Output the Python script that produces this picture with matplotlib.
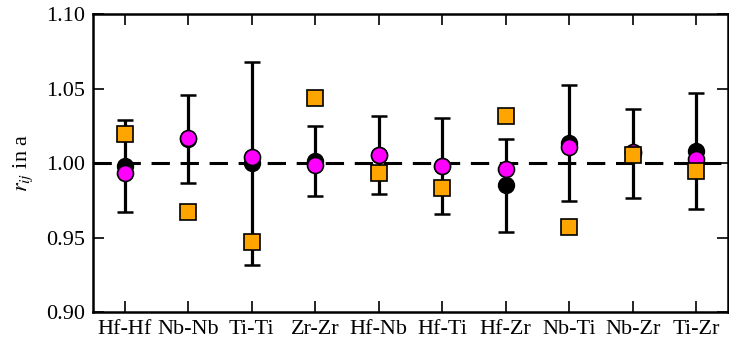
import numpy as np
import matplotlib
matplotlib.use("Agg")
import matplotlib.pyplot as plt

plt.rcParams['font.family'] = ['Liberation Serif', 'DejaVu Serif']
plt.rcParams['mathtext.fontset'] = 'stix'

pairs = ["Hf-Hf", "Nb-Nb", "Ti-Ti", "Zr-Zr", "Hf-Nb", "Hf-Ti", "Hf-Zr", "Nb-Ti", "Nb-Zr", "Ti-Zr"]
black_val = [0.998, 1.016, 0.9998, 1.0015, 1.0055, 0.998, 0.985, 1.0137, 1.0064, 1.008]
black_err = [0.031, 0.0295, 0.068, 0.0235, 0.026, 0.032, 0.031, 0.039, 0.030, 0.039]
magenta_val = [0.9932, 1.017, 1.0043, 0.9987, 1.0054, 0.9982, 0.9958, 1.0105, 1.0076, 1.0025]
square_val = [1.0195, 0.967, 0.9468, 1.0434, 0.9931, 0.983, 1.0314, 0.957, 1.0052, 0.9949]

x = np.arange(len(pairs))

fig = plt.figure(figsize=(7.29, 3.43), dpi=100)
ax = fig.add_axes([0.1276, 0.0904, 0.871, 0.8686])

ax.plot([-0.5, 9.5], [1.0, 1.0], color='black', lw=2.2, ls=(0, (6, 3.5)), zorder=1)
ax.errorbar(x, black_val, yerr=black_err, fmt='o', color='black', ms=11.5,
            mec='black', ecolor='black', elinewidth=2.3, capsize=5.5, capthick=1.8, zorder=2)
ax.plot(x, magenta_val, 'o', color='#FF00FF', ms=11.5, mec='black', mew=1.2, zorder=3)
ax.plot(x, square_val, 's', color='#FFA500', ms=11.5, mec='black', mew=1.2, zorder=4)

ax.set_xlim(-0.5, 9.5)
ax.set_ylim(0.90, 1.10)
ax.set_xticks(x)
ax.set_xticklabels(pairs)
ax.set_yticks([0.90, 0.95, 1.00, 1.05, 1.10])
ax.set_yticklabels(["0.90", "0.95", "1.00", "1.05", "1.10"])
ax.tick_params(direction='in', length=8, width=1.2, labelsize=16, top=True, right=True, pad=6)
for s in ax.spines.values():
    s.set_linewidth(1.8)
ax.set_ylabel(r"$r_{ij}$ in a", fontsize=16, labelpad=8)

fig.savefig("out.png", dpi=100)
